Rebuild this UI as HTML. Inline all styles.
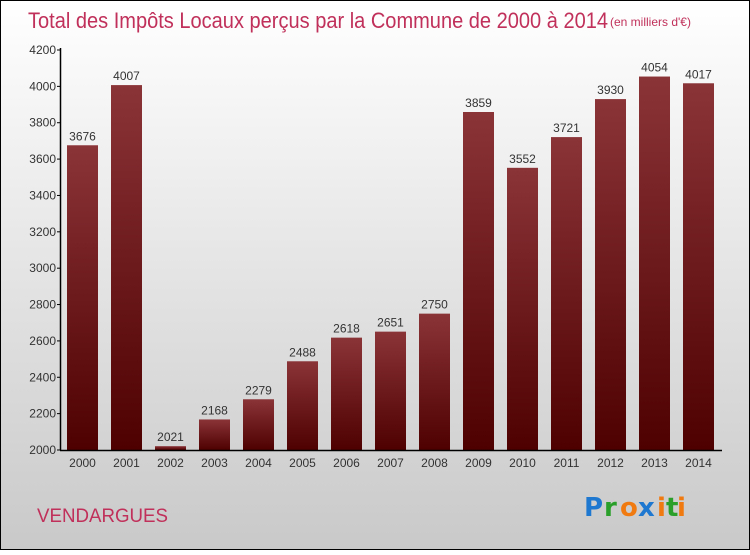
<!DOCTYPE html>
<html><head><meta charset="utf-8"><style>
body{margin:0;width:750px;height:550px;overflow:hidden;font-family:"Liberation Sans",sans-serif}
</style></head><body>
<svg width="750" height="550" xmlns="http://www.w3.org/2000/svg">
<defs>
<linearGradient id="bg" x1="0" y1="0" x2="0" y2="1"><stop offset="0" stop-color="#ffffff"/><stop offset="1" stop-color="#c9c9c9"/></linearGradient>
<linearGradient id="bar" x1="0" y1="0" x2="0" y2="1"><stop offset="0" stop-color="#8b3438"/><stop offset="1" stop-color="#4e0000"/></linearGradient>
</defs>
<rect x="0.5" y="0.5" width="749" height="549" fill="url(#bg)" stroke="#000"/>
<text x="28" y="28" font-size="22" fill="#c0305a" textLength="580" lengthAdjust="spacingAndGlyphs">Total des Impôts Locaux perçus par la Commune de 2000 à 2014</text>
<text x="610" y="26" font-size="12" fill="#c0305a">(en milliers d'€)</text>
<g id="plot"></g>
<text x="37" y="522" font-size="19" fill="#c0305a" textLength="131" lengthAdjust="spacingAndGlyphs">VENDARGUES</text>
<g font-size="26" font-family="'DejaVu Sans',sans-serif" font-weight="bold">
<text x="584" y="516" fill="#1e78d0">P</text><text x="604" y="516" fill="#2aa02a">r</text><text x="620" y="516" fill="#f07a10">o</text><text x="638" y="516" fill="#1e78d0">x</text><text x="657" y="516" fill="#f07a10">i</text><text x="666" y="516" fill="#2aa02a">t</text><text x="677" y="516" fill="#f07a10">i</text>
</g>
</svg>
<script>
const years=["2000","2001","2002","2003","2004","2005","2006","2007","2008","2009","2010","2011","2012","2013","2014"];
const values=[3676,4007,2021,2168,2279,2488,2618,2651,2750,3859,3552,3721,3930,4054,4017];
const yTicks=[2000,2200,2400,2600,2800,3000,3200,3400,3600,3800,4000,4200];
const NS="http://www.w3.org/2000/svg";
const g=document.getElementById('plot');
const y=v=>450-(v-2000)*400/2200;
const x=i=>82.5+i*44;
function mk(t,a,txt){const e=document.createElementNS(NS,t);for(const k in a)e.setAttribute(k,a[k]);if(txt!=null)e.textContent=txt;g.appendChild(e);return e;}
values.forEach((v,i)=>{
 const r=mk('rect',{x:x(i)-15.5,y:y(v),width:31,height:450-y(v),fill:'url(#bar)'});
 
 
 const t=mk('text',{x:x(i),y:y(v)-5,'font-size':12,'text-anchor':'middle',fill:'#333'},String(v));
 
 
 const xl=mk('text',{x:x(i),y:467,'font-size':12,'text-anchor':'middle',fill:'#333'},years[i]);
 
 
});
yTicks.forEach(v=>{
 const l=mk('line',{x1:57,x2:61,y1:y(v),y2:y(v),stroke:'#000'});
 
 
 const t=mk('text',{x:56,y:y(v)+4,'font-size':12,'text-anchor':'end',fill:'#333'},String(v));
 
 
});
const ya=mk('line',{x1:60.5,x2:60.5,y1:48,y2:450,stroke:'#000','stroke-width':1.5});


const xa=mk('line',{x1:60,x2:722,y1:450.5,y2:450.5,stroke:'#000','stroke-width':1.5});


</script>
</body></html>
